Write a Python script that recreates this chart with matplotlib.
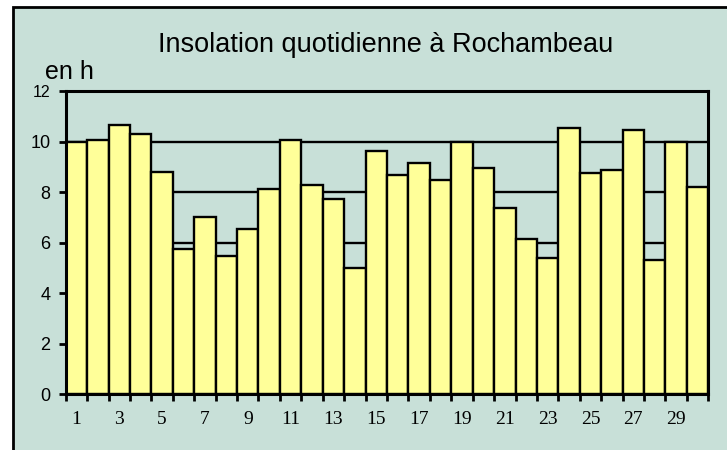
import matplotlib
matplotlib.use("Agg")
import matplotlib.pyplot as plt
from matplotlib.patches import Rectangle
from matplotlib.ticker import FixedLocator

days = list(range(1, 31))
hours = [10.0, 10.08, 10.66, 10.29, 8.79, 5.76, 7.0, 5.49, 6.53, 8.13,
         10.08, 8.30, 7.74, 4.99, 9.63, 8.68, 9.17, 8.50, 10.0, 8.96,
         7.37, 6.16, 5.39, 10.55, 8.77, 8.88, 10.47, 5.30, 10.0, 8.22]
xlabels = [str(d) for d in days[::2]]
yticks = [0, 2, 4, 6, 8, 10, 12]
title = "Insolation quotidienne à Rochambeau"
ylabel = "en h"

BG = "#C8E0D8"
BAR = "#FFFF99"

fig = plt.figure(figsize=(7.27, 4.50), dpi=100)
fig.patch.set_facecolor("white")
fig.patches.append(Rectangle((12.5 / 727, -0.1), 1.2, 1.1 - 7.5 / 450,
                             transform=fig.transFigure, facecolor=BG,
                             edgecolor="black", linewidth=2, zorder=-5))

ax = fig.add_axes([65.7 / 727, 1 - 394.2 / 450, (708.3 - 65.7) / 727, (394.2 - 91.2) / 450])
ax.set_zorder(2)
ax.set_facecolor(BG)

x = list(range(len(days)))
ax.bar(x, hours, width=1.0, color=BAR, edgecolor="black", linewidth=1.7, zorder=3)

ax.set_xlim(-0.5, len(days) - 0.5)
ax.set_ylim(0, 12)
ax.set_yticks(yticks)
ax.set_yticklabels([str(v) for v in yticks], family=["Liberation Sans", "DejaVu Sans"], fontsize=13)
ax.get_yticklabels()[-1].set_fontsize(11.5)
ax.yaxis.grid(True, color="black", linewidth=1.7, zorder=1)
ax.set_axisbelow(True)

# major ticks at bar boundaries, labels at odd days (minor)
ax.xaxis.set_major_locator(FixedLocator([i - 0.5 for i in range(len(days) + 1)]))
ax.xaxis.set_major_formatter(plt.NullFormatter())
ax.xaxis.set_minor_locator(FixedLocator(x[::2]))
ax.xaxis.set_minor_formatter(plt.FixedFormatter(xlabels))
for lab in ax.xaxis.get_minorticklabels():
    lab.set_fontfamily(["Liberation Serif", "DejaVu Serif"])
    lab.set_fontsize(14)
ax.tick_params(axis="x", which="minor", length=0, pad=12, labelsize=14)
ax.tick_params(axis="x", which="major", direction="out", length=5, width=2, color="black")
ax.tick_params(axis="y", direction="out", length=5, width=2, pad=6)

for s in ax.spines.values():
    s.set_linewidth(2.2)
    s.set_color("black")
    s.set_zorder(5)

fig.text(386 / 727, 1 - 45 / 450, title, ha="center", va="center", fontsize=19.5,
         family=["Liberation Sans", "DejaVu Sans"])
fig.text(45 / 727, 1 - 72 / 450, ylabel, ha="left", va="center", fontsize=18,
         family=["Liberation Sans", "DejaVu Sans"])

fig.savefig("out.png", dpi=100, facecolor=fig.get_facecolor())
